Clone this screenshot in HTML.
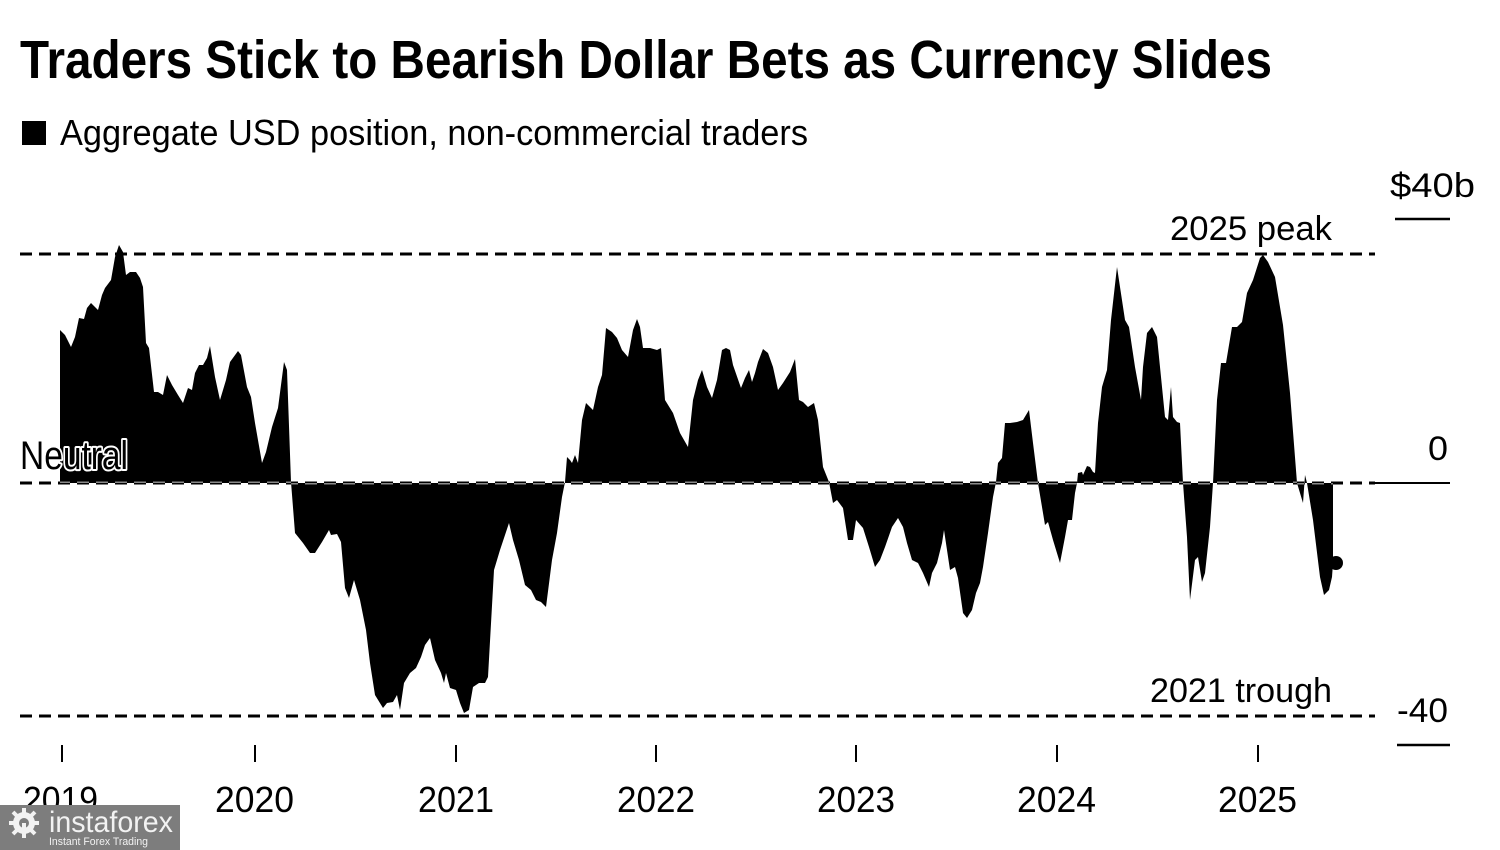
<!DOCTYPE html>
<html>
<head>
<meta charset="utf-8">
<style>
  html, body { margin: 0; padding: 0; background: #ffffff; }
  body { width: 1500px; height: 850px; overflow: hidden; }
  svg { display: block; }
  text { font-family: "Liberation Sans", Arial, sans-serif; fill: #000; }
</style>
</head>
<body>
<svg width="1500" height="850" viewBox="0 0 1500 850" xmlns="http://www.w3.org/2000/svg">
  <defs>
    <path id="area" d="M60,483 L60,330 L65,335 L71,347 L75,337 L79,318 L84,319 L87,308 L91,303 L98,310 L102,295 L105,288 L111,280 L115,257 L119,245 L123,252 L126,275 L130,272 L136,272 L140,278 L143,287 L146,343 L149,348 L154,392 L158,392 L163,395 L167,375 L172,385 L178,395 L183,403 L188,388 L192,390 L195,373 L199,365 L203,365 L207,358 L210,346 L215,377 L220,400 L226,380 L230,362 L238,351 L241,355 L247,387 L251,397 L255,423 L262,463 L266,452 L272,427 L278,408 L284,362 L287,370 L291,482 L295,533 L303,543 L310,553 L315,553 L322,542 L329,530 L331,535 L337,534 L341,542 L345,588 L349,598 L354,580 L360,600 L366,630 L370,663 L375,695 L383,708 L387,703 L393,702 L397,695 L400,710 L404,683 L410,673 L416,668 L421,657 L425,645 L430,638 L435,660 L441,673 L444,683 L446,673 L450,688 L456,690 L460,703 L464,713 L469,710 L473,687 L479,683 L485,683 L488,677 L494,570 L500,550 L509,523 L513,540 L519,560 L525,585 L531,590 L536,600 L541,602 L546,607 L552,560 L557,533 L562,497 L565,482 L567,457 L570,460 L572,463 L575,455 L578,463 L582,420 L586,403 L590,407 L593,410 L598,387 L602,375 L606,328 L612,332 L617,338 L622,350 L628,357 L633,330 L637,319 L640,327 L643,348 L650,348 L657,350 L661,348 L665,400 L673,413 L680,433 L688,447 L693,400 L698,380 L702,370 L707,387 L712,398 L717,380 L722,350 L726,348 L730,350 L733,365 L741,388 L745,378 L749,370 L752,382 L755,373 L758,362 L763,349 L768,353 L773,367 L778,390 L783,383 L790,372 L795,359 L799,400 L803,402 L808,407 L814,403 L818,420 L823,467 L827,477 L829,482 L833,503 L837,500 L843,508 L848,540 L853,540 L856,520 L863,528 L869,547 L875,567 L880,560 L885,547 L892,527 L898,518 L903,527 L907,543 L912,560 L918,563 L923,573 L929,587 L932,573 L937,563 L942,543 L944,530 L950,570 L955,567 L958,578 L963,613 L967,618 L972,610 L976,593 L980,583 L983,567 L988,533 L993,497 L996,482 L998,463 L1002,458 L1005,423 L1010,423 L1017,422 L1023,420 L1029,410 L1033,443 L1038,483 L1042,507 L1045,525 L1048,522 L1053,540 L1060,563 L1065,537 L1068,520 L1072,520 L1075,493 L1077,483 L1078,473 L1082,472 L1083,475 L1087,466 L1090,467 L1093,472 L1095,473 L1098,423 L1102,387 L1107,370 L1111,320 L1117,267 L1120,287 L1125,320 L1129,327 L1135,367 L1141,400 L1143,367 L1147,333 L1152,327 L1157,337 L1161,377 L1165,417 L1168,420 L1171,387 L1173,417 L1177,422 L1180,423 L1183,483 L1187,537 L1190,600 L1195,560 L1198,557 L1202,582 L1205,573 L1210,527 L1213,483 L1217,400 L1221,363 L1226,363 L1232,327 L1237,327 L1242,322 L1247,293 L1253,280 L1260,258 L1263,255 L1268,262 L1275,277 L1283,325 L1290,393 L1297,483 L1303,503 L1305,475 L1307,483 L1313,520 L1320,577 L1324,595 L1329,590 L1332,577 L1333,563 L1333,483 Z"/>
    <clipPath id="areaClip"><use href="#area"/></clipPath>
  </defs>

  <!-- Title -->
  <text x="20" y="78" font-size="54" font-weight="bold" textLength="1252" lengthAdjust="spacingAndGlyphs">Traders Stick to Bearish Dollar Bets as Currency Slides</text>

  <!-- Legend -->
  <rect x="22" y="121" width="24" height="24" fill="#000"/>
  <text x="60" y="145" font-size="36" textLength="748" lengthAdjust="spacingAndGlyphs">Aggregate USD position, non-commercial traders</text>

  <!-- Reference dashed lines -->
  <line x1="20" y1="254" x2="1375" y2="254" stroke="#000" stroke-width="3" stroke-dasharray="12 7"/>
  <line x1="20" y1="716" x2="1375" y2="716" stroke="#000" stroke-width="3" stroke-dasharray="12 7"/>
  <line x1="20" y1="483" x2="1375" y2="483" stroke="#000" stroke-width="3" stroke-dasharray="12 7"/>
  <line x1="1375" y1="483" x2="1450" y2="483" stroke="#000" stroke-width="2"/>

  <!-- Area series -->
  <use href="#area" fill="#000"/>
  <g clip-path="url(#areaClip)">
    <line x1="20" y1="483" x2="1375" y2="483" stroke="#8a8a8a" stroke-width="3" stroke-dasharray="12 7"/>
  </g>
  <circle cx="1336" cy="563" r="7" fill="#000"/>

  <!-- Annotations -->
  <text x="1170" y="240" font-size="34" textLength="162" lengthAdjust="spacingAndGlyphs">2025 peak</text>
  <text x="1150" y="702" font-size="34" textLength="182" lengthAdjust="spacingAndGlyphs">2021 trough</text>
  <text x="20" y="469" font-size="40" textLength="108" lengthAdjust="spacingAndGlyphs" stroke="#fff" stroke-width="4" paint-order="stroke" stroke-linejoin="round">Neutral</text>

  <!-- Right axis -->
  <text x="1390" y="197" font-size="34" textLength="85" lengthAdjust="spacingAndGlyphs">$40b</text>
  <line x1="1395" y1="219" x2="1450" y2="219" stroke="#000" stroke-width="2.5"/>
  <text x="1428" y="460" font-size="34" textLength="20" lengthAdjust="spacingAndGlyphs">0</text>
  <text x="1397" y="722" font-size="34" textLength="51" lengthAdjust="spacingAndGlyphs">-40</text>
  <line x1="1397" y1="745" x2="1450" y2="745" stroke="#000" stroke-width="2.5"/>

  <!-- X axis ticks -->
  <g stroke="#000" stroke-width="2">
    <line x1="62" y1="745" x2="62" y2="762"/>
    <line x1="255" y1="745" x2="255" y2="762"/>
    <line x1="456" y1="745" x2="456" y2="762"/>
    <line x1="656" y1="745" x2="656" y2="762"/>
    <line x1="856" y1="745" x2="856" y2="762"/>
    <line x1="1057" y1="745" x2="1057" y2="762"/>
    <line x1="1258" y1="745" x2="1258" y2="762"/>
  </g>
  <g font-size="36">
    <text x="23" y="812" textLength="75" lengthAdjust="spacingAndGlyphs">2019</text>
    <text x="215" y="812" textLength="79" lengthAdjust="spacingAndGlyphs">2020</text>
    <text x="418" y="812" textLength="76" lengthAdjust="spacingAndGlyphs">2021</text>
    <text x="617" y="812" textLength="78" lengthAdjust="spacingAndGlyphs">2022</text>
    <text x="817" y="812" textLength="78" lengthAdjust="spacingAndGlyphs">2023</text>
    <text x="1017" y="812" textLength="79" lengthAdjust="spacingAndGlyphs">2024</text>
    <text x="1218" y="812" textLength="79" lengthAdjust="spacingAndGlyphs">2025</text>
  </g>

  <!-- Watermark -->
  <rect x="0" y="805" width="180" height="45" fill="#7d7d7d"/>
  <g fill="#f2f2f2">
    <circle cx="24" cy="823" r="11"/>
    <g stroke="#f2f2f2" stroke-width="4">
      <line x1="24" y1="808" x2="24" y2="838"/>
      <line x1="9" y1="823" x2="39" y2="823"/>
      <line x1="13" y1="812" x2="35" y2="834"/>
      <line x1="35" y1="812" x2="13" y2="834"/>
    </g>
    <circle cx="24" cy="823" r="5" fill="#7d7d7d"/>
    <rect x="22" y="823" width="4" height="14" fill="#f2f2f2"/>
  </g>
  <text x="49" y="832" font-size="30" style="fill:#f2f2f2" textLength="124" lengthAdjust="spacingAndGlyphs">instaforex</text>
  <text x="49" y="845" font-size="11" style="fill:#f2f2f2" textLength="99" lengthAdjust="spacingAndGlyphs">Instant Forex Trading</text>
</svg>
</body>
</html>
